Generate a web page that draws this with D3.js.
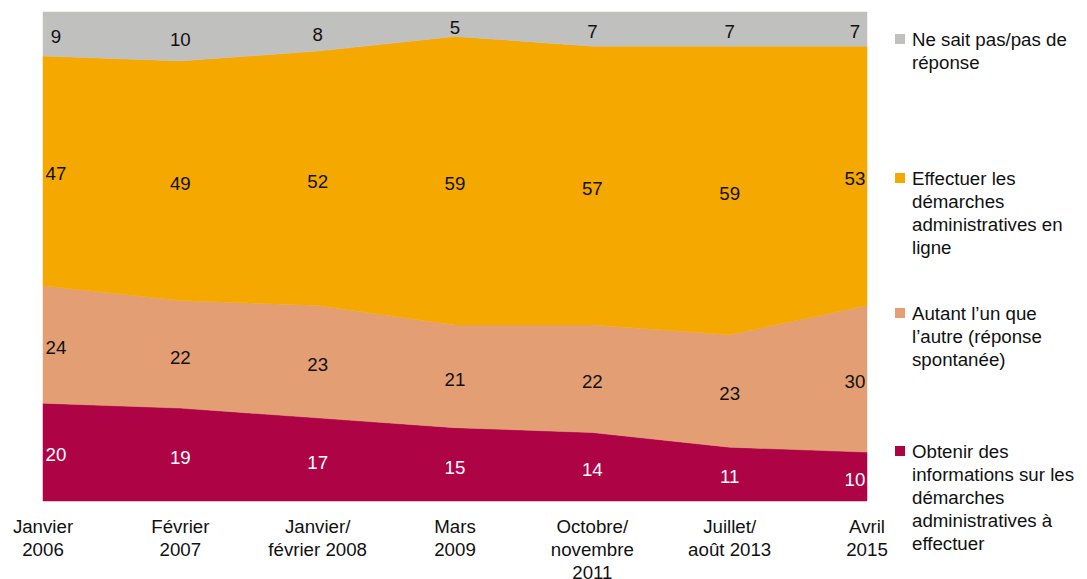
<!DOCTYPE html>
<html>
<head>
<meta charset="utf-8">
<script src="https://cdn.jsdelivr.net/npm/d3@7"></script>
<style>
  body { margin: 0; background: #fff; }
  text { font-family: "Liberation Sans", Arial, sans-serif; }
</style>
</head>
<body>
<div id="chart"></div>
<script>
// périodes (axe x)
const periods = [
  ["Janvier", "2006"],
  ["Février", "2007"],
  ["Janvier/", "février 2008"],
  ["Mars", "2009"],
  ["Octobre/", "novembre", "2011"],
  ["Juillet/", "août 2013"],
  ["Avril", "2015"]
]

// séries, de bas en haut
const obtenir   = [20, 19, 17, 15, 14, 11, 10]
const autant    = [24, 22, 23, 21, 22, 23, 30]
const effectuer = [47, 49, 52, 59, 57, 59, 53]
const nsp       = [9, 10, 8, 5, 7, 7, 7]

const seriesKeys = ["obtenir", "autant", "effectuer", "nsp"]
const seriesLabels = [
  ["Obtenir des", "informations sur les", "démarches", "administratives à", "effectuer"],
  ["Autant l’un que", "l’autre (réponse", "spontanée)"],
  ["Effectuer les", "démarches", "administratives en", "ligne"],
  ["Ne sait pas/pas de", "réponse"]
]
const colors = ["#AE0446", "#E39E74", "#F5A800", "#C0C0BF"]
const labelColors = ["#fff", "#111", "#111", "#111"]

const width = 1087, height = 579
const margin = { top: 12, left: 43, right: 220, bottom: 78 }
const fontSize = 18.7

const rows = periods.map((p, i) => ({
  i: i, obtenir: obtenir[i], autant: autant[i], effectuer: effectuer[i], nsp: nsp[i]
}))

const svg = d3.select('#chart')
  .append('svg')
  .attr('width', width)
  .attr('height', height)

const x = d3.scaleLinear()
  .domain([0, periods.length - 1])
  .range([margin.left, width - margin.right])

const y = d3.scaleLinear()
  .domain([0, 100])
  .range([height - margin.bottom, margin.top])

const stack = d3.stack().keys(seriesKeys)
const layers = stack(rows)

const area = d3.area()
  .x(d => x(d.data.i))
  .y0(d => y(d[0]))
  .y1(d => y(d[1]))

svg.selectAll('path.layer')
  .data(layers)
  .enter()
  .append('path')
    .attr('class', 'layer')
    .attr('d', area)
    .attr('fill', (d, i) => colors[i])
    .attr('stroke', (d, i) => colors[i])
    .attr('stroke-width', 0.5)

// étiquettes de valeurs
const last = periods.length - 1
layers.forEach((layer, li) => {
  svg.selectAll('text.v' + li)
    .data(layer)
    .enter()
    .append('text')
      .attr('class', 'v' + li)
      .attr('x', d => {
        const xi = x(d.data.i)
        if (d.data.i === 0) return xi + 13
        if (d.data.i === last) return xi - 12
        return xi
      })
      .attr('y', d => y((d[0] + d[1]) / 2))
      .attr('dy', '0.5em')
      .attr('text-anchor', 'middle')
      .attr('font-size', fontSize)
      .attr('fill', labelColors[li])
      .text(d => d[1] - d[0])
})

// axe x
const xAxis = svg.append('g')
periods.forEach((lines, i) => {
  const t = xAxis.append('text')
    .attr('x', x(i))
    .attr('y', height - margin.bottom + 32)
    .attr('text-anchor', 'middle')
    .attr('font-size', fontSize)
    .attr('fill', '#111')
  lines.forEach((l, j) => {
    t.append('tspan')
      .attr('x', x(i))
      .attr('dy', j === 0 ? 0 : 23)
      .text(l)
  })
})

// légende
const legendTop = [458, 320, 185, 46]
const lg = svg.append('g')
seriesLabels.forEach((lines, i) => {
  lg.append('rect')
    .attr('x', 895)
    .attr('y', legendTop[i] - 12)
    .attr('width', 10)
    .attr('height', 10)
    .attr('fill', colors[i])
  const t = lg.append('text')
    .attr('x', 912)
    .attr('y', legendTop[i])
    .attr('font-size', fontSize)
    .attr('fill', '#111')
  lines.forEach((l, j) => {
    t.append('tspan')
      .attr('x', 912)
      .attr('dy', j === 0 ? 0 : 23)
      .text(l)
  })
})
</script>
</body>
</html>
